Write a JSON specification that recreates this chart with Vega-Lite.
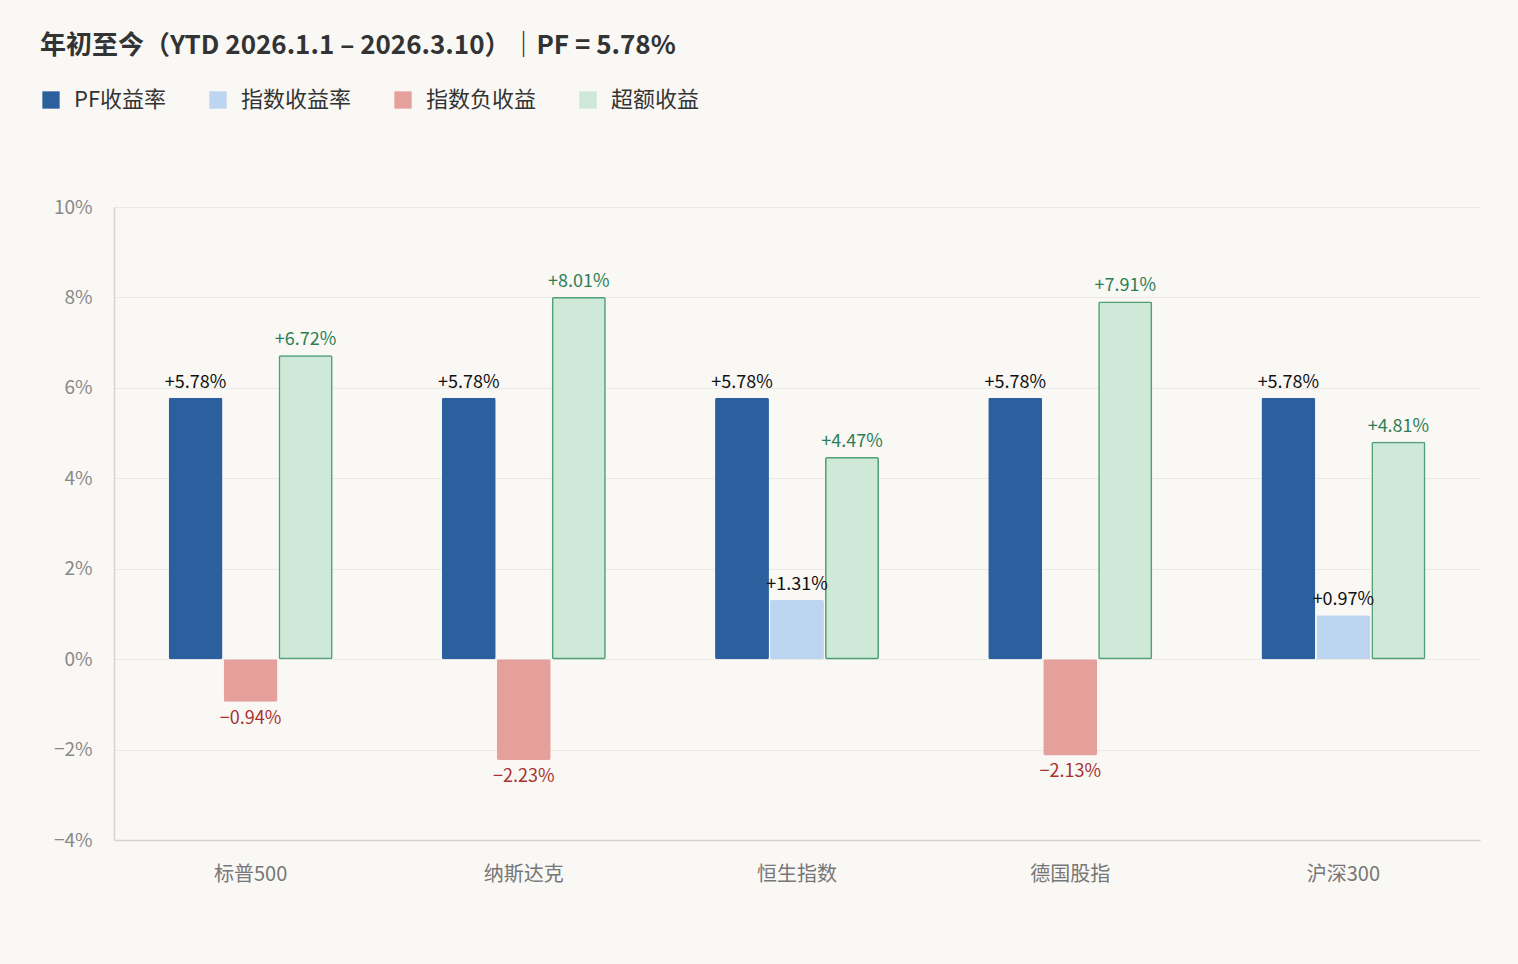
{
"$schema":"https://vega.github.io/schema/vega-lite/v6.json",
"width":1366,"height":633,
"autosize":{"type":"none"},
"padding":{"left":114,"top":207,"right":38,"bottom":124},
"background":"#f9f8f5",
"config":{"font":"Noto Sans CJK SC","view":{"stroke":null}},
"title":{"text":"年初至今（YTD 2026.1.1 – 2026.3.10）｜PF = 5.78%","anchor":"start","frame":"group","dx":-74,"offset":30,"fontSize":26,"fontWeight":"bold","color":"#333333"},
"data":{"values":[
{"g":"标普500","s":"PF收益率","slot":"PF","v":0.0578},
{"g":"标普500","s":"指数负收益","slot":"指数","v":-0.0094},
{"g":"标普500","s":"超额收益","slot":"超额","v":0.0672},
{"g":"纳斯达克","s":"PF收益率","slot":"PF","v":0.0578},
{"g":"纳斯达克","s":"指数负收益","slot":"指数","v":-0.0223},
{"g":"纳斯达克","s":"超额收益","slot":"超额","v":0.0801},
{"g":"恒生指数","s":"PF收益率","slot":"PF","v":0.0578},
{"g":"恒生指数","s":"指数收益率","slot":"指数","v":0.0131},
{"g":"恒生指数","s":"超额收益","slot":"超额","v":0.0447},
{"g":"德国股指","s":"PF收益率","slot":"PF","v":0.0578},
{"g":"德国股指","s":"指数负收益","slot":"指数","v":-0.0213},
{"g":"德国股指","s":"超额收益","slot":"超额","v":0.0791},
{"g":"沪深300","s":"PF收益率","slot":"PF","v":0.0578},
{"g":"沪深300","s":"指数收益率","slot":"指数","v":0.0097},
{"g":"沪深300","s":"超额收益","slot":"超额","v":0.0481}
]},
"encoding":{
"x":{"field":"g","type":"nominal","sort":null,"scale":{"paddingInner":0.4,"paddingOuter":0.2},"axis":{"title":null,"labelAngle":0,"labelFontSize":20,"labelColor":"#777777","labelPadding":24,"ticks":false,"domainColor":"#d6d4cf","domainWidth":1.5}},
"xOffset":{"field":"slot","type":"nominal","sort":["PF","指数","超额"],"scale":{"paddingInner":0.02}},
"y":{"field":"v","type":"quantitative","scale":{"domain":[-0.04,0.1],"nice":false},"axis":{"title":null,"format":".0%","values":[-0.04,-0.02,0,0.02,0.04,0.06,0.08,0.1],"labelFontSize":19,"labelColor":"#888888","labelPadding":22,"ticks":false,"gridColor":"#ebe9e4","domainColor":"#d6d4cf","domainWidth":1.5}}
},
"layer":[
{"mark":{"type":"bar","cornerRadius":2},
"encoding":{
"fill":{"field":"s","type":"nominal","scale":{"domain":["PF收益率","指数收益率","指数负收益","超额收益"],"range":["#2b5f9e","#bcd5f0","#e5a09b","#cfe9d8"]},
"legend":{"title":null,"orient":"none","legendX":-74,"legendY":-118,"direction":"horizontal","symbolType":"square","symbolSize":300,"symbolStrokeWidth":0,"labelFontSize":22,"labelColor":"#333333","columnPadding":40,"labelOffset":12}},
"stroke":{"condition":{"test":"datum.s==='超额收益'","value":"#4f9f78"},"value":null},
"strokeWidth":{"value":3}}},
{"transform":[{"filter":"datum.v>=0"}],"mark":{"type":"text","baseline":"bottom","dy":-6,"fontSize":18},
"encoding":{"text":{"field":"v","format":"+.2%"},
"color":{"condition":{"test":"datum.s==='超额收益'","value":"#2e7d55"},"value":"#111111"}}},
{"transform":[{"filter":"datum.v<0"}],"mark":{"type":"text","baseline":"top","dy":8,"fontSize":18,"color":"#a83232"},
"encoding":{"text":{"field":"v","format":"+.2%"}}}
]
}
